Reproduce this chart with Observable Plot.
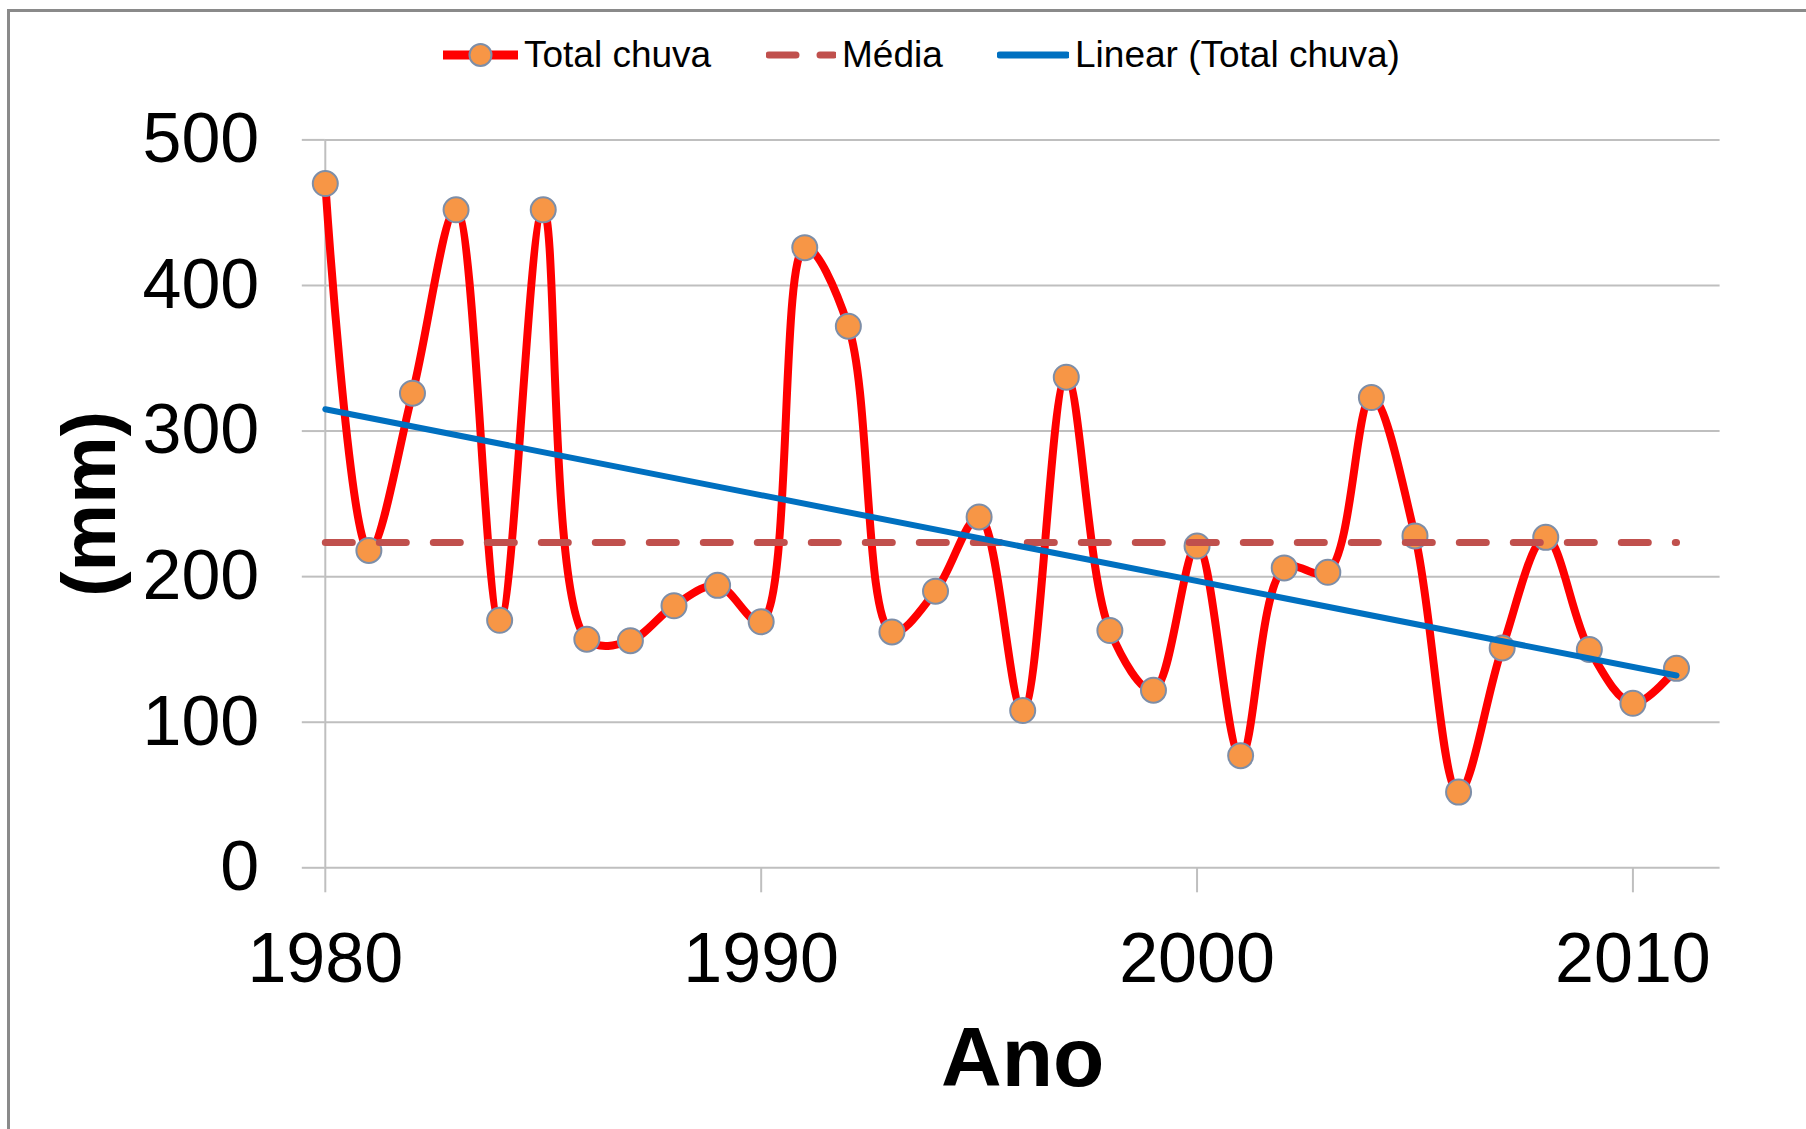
<!DOCTYPE html>
<html>
<head>
<meta charset="utf-8">
<script src="https://cdn.jsdelivr.net/npm/d3@7"></script>
<script src="https://cdn.jsdelivr.net/npm/@observablehq/plot@0.6"></script>
<style>
  html, body { margin: 0; padding: 0; background: #fff; overflow: hidden; }
  #wrap { position: relative; width: 1806px; height: 1129px; font-family: "Liberation Sans", Arial, sans-serif; }
  #border { position: absolute; left: 7px; top: 9px; width: 1900px; height: 1200px;
            border-left: 3px solid #8a8a8a; border-top: 3px solid #8a8a8a; box-sizing: border-box; }
  #legend { position: absolute; left: 0; top: 0; width: 1806px; height: 100px; }
  .item { position: absolute; top: 33px; height: 44px; display: flex; align-items: center;
          font-size: 37px; color: #000; white-space: nowrap; }
  .item svg { display: block; margin-right: 6px; }
  #chart { position: absolute; left: 0; top: 100px; }
</style>
</head>
<body>
<div id="wrap">
  <div id="border"></div>
  <div id="legend"></div>
  <div id="chart"></div>
</div>
<script>
// ---- data ----
const years = [1980, 1981, 1982, 1983, 1984, 1985, 1986, 1987, 1988, 1989,
               1990, 1991, 1992, 1993, 1994, 1995, 1996, 1997, 1998, 1999,
               2000, 2001, 2002, 2003, 2004, 2005, 2006, 2007, 2008, 2009,
               2010, 2011];
const totalChuva = [470, 218, 326, 452, 170, 452, 157, 156, 180, 194,
                    169, 426, 372, 162, 190, 241, 108, 337, 163, 122,
                    221, 77, 206, 203, 323, 228, 52, 151, 227, 150,
                    113, 137];
const xTicks = [1980, 1990, 2000, 2010];
const yTicks = [0, 100, 200, 300, 400, 500];
const xDomain = [1980, 2012];
const yDomain = [0, 500];
const seriesNames = ["Total chuva", "Média", "Linear (Total chuva)"];
const xLabel = "Ano";
const yLabel = "(mm)";

const rain = years.map((year, i) => ({year, value: totalChuva[i]}));

// colours
const RED = "#FF0000", ORANGE = "#F79646", MARKER_STROKE = "#7d8ea8";
const MEAN = "#C0504D", BLUE = "#0070C0", GRID = "#BFBFBF";

// ---- legend ----
const legend = document.getElementById("legend");
const items = [
  {left: 443, w: 75, name: seriesNames[0],
   svg: `<line x1="0" y1="22" x2="75" y2="22" stroke="${RED}" stroke-width="9" stroke-linecap="round"/>
         <circle cx="37.5" cy="22" r="11" fill="${ORANGE}" stroke="${MARKER_STROKE}" stroke-width="2"/>`},
  {left: 766, w: 70, name: seriesNames[1],
   svg: `<line x1="3" y1="22" x2="68" y2="22" stroke="${MEAN}" stroke-width="7" stroke-dasharray="27,24" stroke-linecap="round"/>`},
  {left: 997, w: 72, name: seriesNames[2],
   svg: `<line x1="3" y1="22" x2="70" y2="22" stroke="${BLUE}" stroke-width="7" stroke-linecap="round"/>`}
];
for (const it of items) {
  const d = document.createElement("div");
  d.className = "item";
  d.style.left = it.left + "px";
  d.innerHTML = `<svg width="${it.w}" height="44">${it.svg}</svg><span>${it.name}</span>`;
  legend.appendChild(d);
}

// mean of the series, repeated for every year (draws the "Média" line)
const meanMap = V => { const m = d3.mean(V); return Array.from(V, () => m); };

// ---- chart ----
const chart = Plot.plot({
  width: 1806,
  height: 1029,
  marginLeft: 324.8,
  marginRight: 86.4,
  marginTop: 39.4,
  marginBottom: 261.7,
  style: {fontFamily: '"Liberation Sans", Arial, sans-serif', background: "transparent", color: "#000"},
  x: {domain: xDomain},
  y: {domain: yDomain},
  marks: [
    Plot.gridY(yTicks, {stroke: GRID, strokeOpacity: 1, strokeWidth: 2}),
    Plot.ruleX(xDomain.slice(0, 1), {stroke: GRID, strokeWidth: 2}),
    Plot.axisY({ticks: yTicks, tickSize: 23, tickPadding: 43, fontSize: 70, stroke: GRID, strokeWidth: 2,
                fill: "#000", label: null, tickFormat: d => String(d)}),
    Plot.axisX({ticks: xTicks, tickSize: 25, tickPadding: 39, fontSize: 70, stroke: GRID, strokeWidth: 2,
                fill: "#000", label: null, tickFormat: d => String(d)}),
    Plot.line(rain, {x: "year", y: "value", curve: "catmull-rom", stroke: RED, strokeWidth: 8}),
    Plot.dot(rain, {x: "year", y: "value", r: 12.5, fill: ORANGE, stroke: MARKER_STROKE, strokeWidth: 2}),
    Plot.lineY(rain, Plot.mapY(meanMap, {x: "year", y: "value", stroke: MEAN, strokeWidth: 7, strokeDasharray: "27,27"})),
    Plot.linearRegressionY(rain, {x: "year", y: "value", stroke: BLUE, strokeWidth: 6, ci: 0}),
    Plot.text([xLabel], {frameAnchor: "bottom", lineAnchor: "bottom", dy: 218, fontSize: 84, fontWeight: "bold", fill: "#000"}),
    Plot.text([yLabel], {frameAnchor: "left", textAnchor: "middle", lineAnchor: "bottom", rotate: -90, dx: -210, fontSize: 76, fontWeight: "bold", fill: "#000"})
  ]
});
document.getElementById("chart").appendChild(chart);
</script>
</body>
</html>
